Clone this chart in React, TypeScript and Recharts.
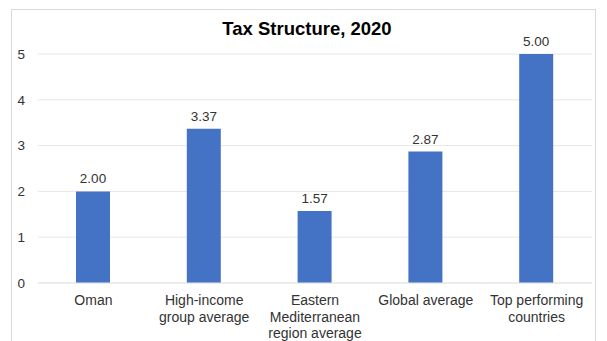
import { BarChart, Bar, XAxis, YAxis, CartesianGrid, LabelList } from "recharts";

const categories = [
  "Oman",
  "High-income group average",
  "Eastern Mediterranean region average",
  "Global average",
  "Top performing countries",
];
const categoryLines: string[][] = [
  ["Oman"],
  ["High-income", "group average"],
  ["Eastern", "Mediterranean", "region average"],
  ["Global average"],
  ["Top performing", "countries"],
];
const scores = [2.0, 3.37, 1.57, 2.87, 5.0];
const yTicks = [0, 1, 2, 3, 4, 5];

const chartData = categories.map((name, i) => ({ name, lines: categoryLines[i], score: scores[i] }));

const FONT = "'Liberation Sans', Arial, sans-serif";

function CategoryTick(props: any) {
  const { x, y, payload } = props;
  const lines = categoryLines[payload.index] ?? [payload.value];
  return (
    <text x={x} y={y + 1} textAnchor="middle" fill="#333" fontSize={14} fontFamily={FONT}>
      {lines.map((l, i) => (
        <tspan key={i} x={x} dy={i === 0 ? 13 : 16.5}>
          {l}
        </tspan>
      ))}
    </text>
  );
}

export default function App() {
  return (
    <div style={{ position: "fixed", left: 0, top: 0, width: 607, height: 341, background: "#fff", fontFamily: FONT }}>
      <div
        style={{
          position: "absolute",
          left: 11,
          top: 9,
          width: 585,
          height: 340,
          border: "1px solid #d9d9d9",
          boxSizing: "border-box",
        }}
      />
      <div
        style={{
          position: "absolute",
          left: 0,
          width: 614,
          top: 18,
          textAlign: "center",
          fontSize: 18.5,
          fontWeight: "bold",
          color: "#000",
        }}
      >
        Tax Structure, 2020
      </div>
      <div style={{ position: "absolute", left: 0, top: 0 }}>
        <BarChart
          width={607}
          height={341}
          data={chartData}
          margin={{ top: 54, right: 15, left: 0, bottom: 0 }}
          barSize={34}
        >
          <CartesianGrid horizontal vertical={false} stroke="#e6e6e6" />
          <XAxis
            dataKey="name"
            height={58}
            axisLine={{ stroke: "#e6e6e6" }}
            tickLine={false}
            interval={0}
            tick={<CategoryTick />}
          />
          <YAxis
            width={38}
            domain={[0, 5]}
            ticks={yTicks}
            axisLine={false}
            tickLine={false}
            tickSize={0}
            tickMargin={13}
            tick={{ fill: "#333", fontSize: 13.5, fontFamily: FONT }}
          />
          <Bar dataKey="score" fill="#4472c4" isAnimationActive={false}>
            <LabelList
              dataKey="score"
              position="top"
              offset={8}
              formatter={(v: any) => Number(v).toFixed(2)}
              style={{ fill: "#333", fontSize: 13.5, fontFamily: FONT }}
            />
          </Bar>
        </BarChart>
      </div>
    </div>
  );
}
